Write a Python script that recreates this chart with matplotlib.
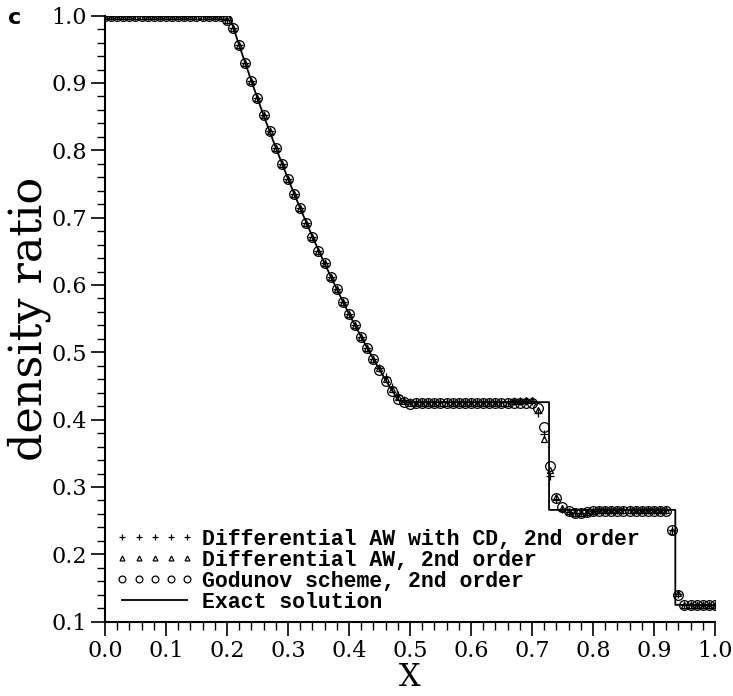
import matplotlib
matplotlib.use("Agg")
import matplotlib.pyplot as plt
from matplotlib.ticker import MultipleLocator, FormatStrFormatter
import numpy as np

# grid nodes 0.00 ... 1.00
x_nodes = np.round(np.arange(101) * 0.01, 2)

# rarefaction part shared by the schemes (x = 0.19 ... 0.46)
rare = [0.999, 0.994, 0.981, 0.956, 0.929, 0.903, 0.877, 0.852, 0.828, 0.804,
        0.780, 0.758, 0.735, 0.714, 0.692, 0.672, 0.651, 0.632, 0.612, 0.594,
        0.575, 0.557, 0.540, 0.523, 0.506, 0.490, 0.474, 0.458]

# Godunov scheme, 2nd order (circles)
rho_god = ([1.0] * 19 + rare + [0.442, 0.430, 0.426, 0.424]
           + [0.425] * 20
           + [0.418, 0.389, 0.331, 0.284, 0.270, 0.264, 0.262, 0.262, 0.263, 0.264]
           + [0.265] * 12 + [0.236, 0.140] + [0.125] * 6)

# Differential AW, 2nd order (triangles)
rho_aw = ([1.0] * 19 + rare[:-2] + [0.476, 0.461, 0.446, 0.434, 0.428, 0.425]
          + [0.425] * 16 + [0.427, 0.428, 0.429, 0.429]
          + [0.415, 0.372, 0.325, 0.285, 0.269, 0.264, 0.262, 0.262, 0.263, 0.264]
          + [0.266] * 12 + [0.235, 0.142] + [0.125] * 6)

# Differential AW with CD, 2nd order (pluses)
rho_awcd = ([1.0] * 19 + rare[:-2] + [0.477, 0.463, 0.449, 0.437, 0.429, 0.426]
            + [0.426] * 16 + [0.427, 0.427, 0.428, 0.428]
            + [0.410, 0.378, 0.317, 0.282, 0.268, 0.263, 0.261, 0.261, 0.262, 0.264]
            + [0.266] * 12 + [0.236, 0.141] + [0.125] * 6)

# exact solution polyline
x_exact = [0.0, 0.204, 0.22, 0.24, 0.26, 0.28, 0.30, 0.32, 0.34, 0.36, 0.38,
           0.40, 0.42, 0.44, 0.46, 0.48, 0.486, 0.728, 0.728, 0.935, 0.935, 1.0]
rho_exact = [1.0, 1.0, 0.956, 0.903, 0.852, 0.804, 0.758, 0.714, 0.672, 0.632,
             0.594, 0.557, 0.523, 0.490, 0.459, 0.430, 0.426, 0.426, 0.266,
             0.266, 0.125, 0.125]

labels = ["Differential AW with CD, 2nd order",
          "Differential AW, 2nd order",
          "Godunov scheme, 2nd order",
          "Exact solution"]

serif = "DejaVu Serif"

fig = plt.figure(figsize=(7.33, 6.96), dpi=100)
ax = fig.add_axes([0.1432, 0.1068, 0.8322, 0.8707])

ax.plot(x_nodes, rho_awcd, linestyle="none", marker="+", markersize=6,
        markeredgewidth=0.9, color="black", label=labels[0])
ax.plot(x_nodes, rho_aw, linestyle="none", marker="^", markersize=5,
        markerfacecolor="none", markeredgewidth=0.9, color="black", label=labels[1])
ax.plot(x_nodes, rho_god, linestyle="none", marker="o", markersize=7,
        markerfacecolor="none", markeredgewidth=0.9, color="black", label=labels[2])
ax.plot(x_exact, rho_exact, color="black", linewidth=1.3, label=labels[3])

ax.set_xlim(0.0, 1.0)
ax.set_ylim(0.1, 1.0)
ax.spines["top"].set_visible(False)
ax.spines["right"].set_visible(False)
for s in ("left", "bottom"):
    ax.spines[s].set_linewidth(1.5)

ax.xaxis.set_major_locator(MultipleLocator(0.1))
ax.xaxis.set_minor_locator(MultipleLocator(0.02))
ax.yaxis.set_major_locator(MultipleLocator(0.1))
ax.yaxis.set_minor_locator(MultipleLocator(0.02))
ax.xaxis.set_major_formatter(FormatStrFormatter("%.1f"))
ax.yaxis.set_major_formatter(FormatStrFormatter("%.1f"))
ax.tick_params(axis="both", which="major", direction="out", length=10,
               width=1.2, labelsize=16, pad=3)
ax.tick_params(axis="both", which="minor", direction="out", length=6, width=1.0)
for lab in ax.get_xticklabels() + ax.get_yticklabels():
    lab.set_family(serif)

ax.set_xlabel("X", family=serif, fontsize=22, labelpad=0)
ax.set_ylabel("density ratio", family=serif, fontsize=32, labelpad=0)

fig.text(0.011, 0.974, "c", fontsize=16, fontweight="bold", family="DejaVu Sans",
         va="center", ha="left")

ax.legend(loc="lower left", bbox_to_anchor=(0.018, 0.015), frameon=False,
          numpoints=5, markerscale=0.7, handlelength=3.6, handletextpad=0.4,
          labelspacing=0.0, borderpad=0.0, borderaxespad=0.0,
          prop={"family": "Liberation Mono", "size": 15.5, "weight": "bold"})

fig.savefig("out.png", dpi=100)
